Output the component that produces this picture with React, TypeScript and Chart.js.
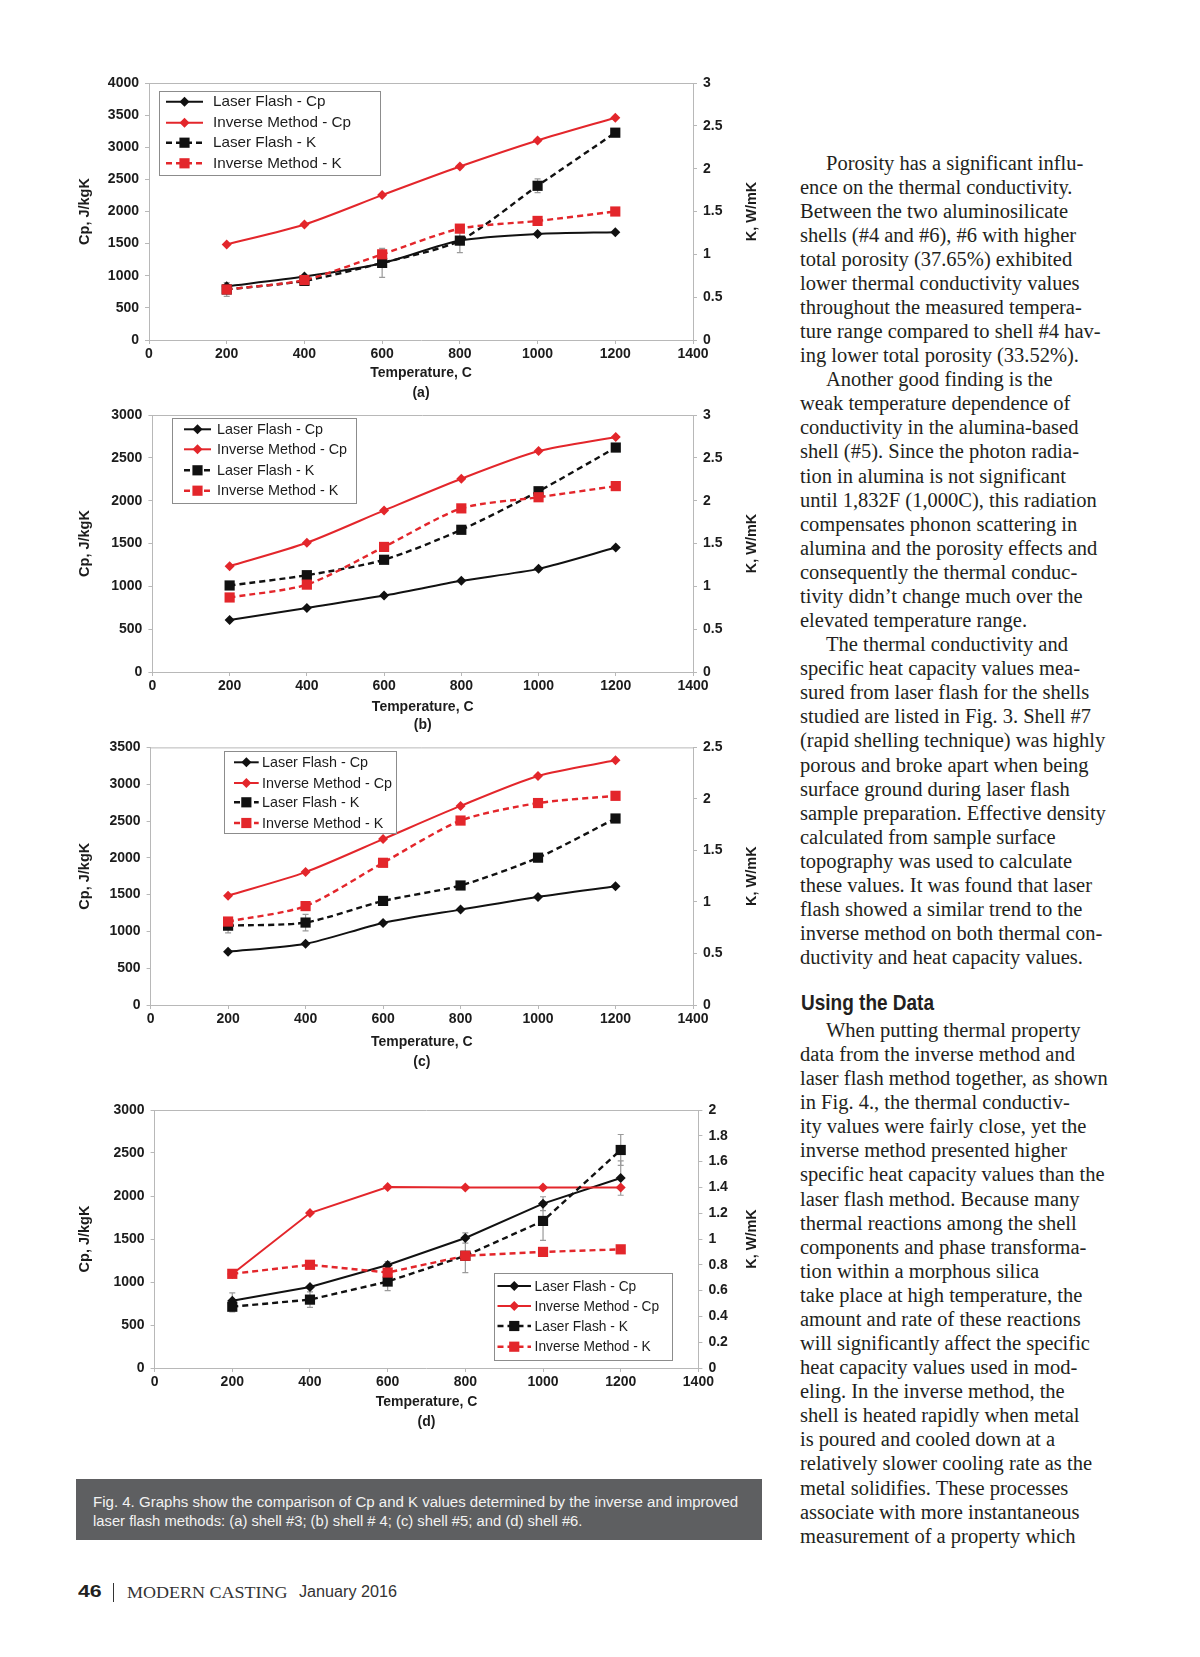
import React, { useEffect, useLayoutEffect, useRef } from 'react';
import { Chart, registerables } from 'chart.js';
Chart.register(...registerables);

// ---------------- DATA ----------------
const temperatures = [200, 400, 600, 800, 1000, 1200];
const seriesNames = ['Laser Flash - Cp', 'Inverse Method - Cp', 'Laser Flash - K', 'Inverse Method - K'];

// (a) shell #3
const aLaserCp = [836, 987, 1195, 1548, 1650, 1678];
const aInverseCp = [1486, 1797, 2255, 2700, 3106, 3460];
const aLaserK = [0.59, 0.69, 0.9, 1.16, 1.8, 2.42];
const aInverseK = [0.59, 0.7, 1.0, 1.3, 1.39, 1.5];
const aLaserCpErr = [0, 0, 0, 0, 0, 0];
const aLaserKErr = [0.08, 0.04, 0.17, 0.14, 0.08, 0.03];
const aInverseKErr = [0, 0, 0.05, 0, 0, 0];

// (b) shell #4
const bLaserCp = [608, 748, 892, 1064, 1204, 1453];
const bInverseCp = [1235, 1508, 1886, 2256, 2579, 2743];
const bLaserK = [1.01, 1.13, 1.31, 1.66, 2.11, 2.62];
const bInverseK = [0.87, 1.02, 1.46, 1.91, 2.04, 2.17];
const bLaserCpErr = [0, 0, 0, 0, 0, 0];
const bLaserKErr = [0, 0, 0, 0, 0, 0];
const bInverseKErr = [0, 0, 0, 0, 0, 0];

// (c) shell #5
const cLaserCp = [723, 831, 1115, 1296, 1468, 1612];
const cInverseCp = [1486, 1806, 2254, 2705, 3112, 3324];
const cLaserK = [0.77, 0.8, 1.01, 1.16, 1.43, 1.81];
const cInverseK = [0.81, 0.96, 1.38, 1.79, 1.96, 2.03];
const cLaserCpErr = [0, 0, 0, 0, 0, 0];
const cLaserKErr = [0.07, 0.08, 0.03, 0.03, 0.04, 0];
const cInverseKErr = [0, 0, 0, 0, 0, 0];

// (d) shell #6
const dLaserCp = [783, 942, 1198, 1512, 1911, 2209];
const dInverseCp = [1093, 1802, 2105, 2100, 2100, 2100];
const dLaserK = [0.475, 0.53, 0.67, 0.87, 1.14, 1.69];
const dInverseK = [0.73, 0.8, 0.74, 0.87, 0.9, 0.92];
const dLaserCpErr = [90, 0, 40, 60, 80, 200];
const dLaserKErr = [0.04, 0.06, 0.07, 0.13, 0.15, 0.12];
const dInverseKErr = [0, 0, 0, 0, 0, 0];

const columnOneLines = [
  'Porosity has a significant influ-',
  'ence on the thermal conductivity.',
  'Between the two aluminosilicate',
  'shells (#4 and #6), #6 with higher',
  'total porosity (37.65%) exhibited',
  'lower thermal conductivity values',
  'throughout the measured tempera-',
  'ture range compared to shell #4 hav-',
  'ing lower total porosity (33.52%).',
  'Another good finding is the',
  'weak temperature dependence of',
  'conductivity in the alumina-based',
  'shell (#5). Since the photon radia-',
  'tion in alumina is not significant',
  'until 1,832F (1,000C), this radiation',
  'compensates phonon scattering in',
  'alumina and the porosity effects and',
  'consequently the thermal conduc-',
  'tivity didn\u2019t change much over the',
  'elevated temperature range.',
  'The thermal conductivity and',
  'specific heat capacity values mea-',
  'sured from laser flash for the shells',
  'studied are listed in Fig. 3. Shell #7',
  '(rapid shelling technique) was highly',
  'porous and broke apart when being',
  'surface ground during laser flash',
  'sample preparation. Effective density',
  'calculated from sample surface',
  'topography was used to calculate',
  'these values. It was found that laser',
  'flash showed a similar trend to the',
  'inverse method on both thermal con-',
  'ductivity and heat capacity values.',
];
const columnOneIndents = [0, 9, 20];
const headingText = 'Using the Data';
const columnTwoLines = [
  'When putting thermal property',
  'data from the inverse method and',
  'laser flash method together, as shown',
  'in Fig. 4., the thermal conductiv-',
  'ity values were fairly close, yet the',
  'inverse method presented higher',
  'specific heat capacity values than the',
  'laser flash method. Because many',
  'thermal reactions among the shell',
  'components and phase transforma-',
  'tion within a morphous silica',
  'take place at high temperature, the',
  'amount and rate of these reactions',
  'will significantly affect the specific',
  'heat capacity values used in mod-',
  'eling. In the inverse method, the',
  'shell is heated rapidly when metal',
  'is poured and cooled down at a',
  'relatively slower cooling rate as the',
  'metal solidifies. These processes',
  'associate with more instantaneous',
  'measurement of a property which',
];
const captionLines = [
  'Fig. 4. Graphs show the comparison of Cp and K values determined by the inverse and improved',
  'laser flash methods: (a) shell #3; (b) shell # 4; (c) shell #5; and (d) shell #6.',
];

// ---------------- STYLE ----------------
const SANS = '"Liberation Sans", Arial, sans-serif';
const SERIF = '"Liberation Serif", "Times New Roman", serif';
const RED = '#e3262b';
const BLACK = '#111111';
const AXIS = '#b8b8b8';
const TEXT = '#1c1c1c';
const CANVAS_LEFT = 60;
const CANVAS_WIDTH = 720;

const panels = [
  {
    letter: '(a)', laserCp: aLaserCp, inverseCp: aInverseCp, laserK: aLaserK, inverseK: aInverseK,
    laserCpErr: aLaserCpErr, laserKErr: aLaserKErr, inverseKErr: aInverseKErr,
    cpMax: 4000, cpStep: 500, kMax: 3, kStep: 0.5, tension: 0.25,
    layout: { canvasTop: 68, plotLeft: 149, plotRight: 693, plotTop: 83, plotBottom: 340, titleY: 373, titleGap: 20,
      box: [159, 91, 380, 175], rows: [101.7, 122.7, 142.7, 163.3], sample: [166, 203], textX: 213, textWidth: 138 },
  },
  {
    letter: '(b)', laserCp: bLaserCp, inverseCp: bInverseCp, laserK: bLaserK, inverseK: bInverseK,
    laserCpErr: bLaserCpErr, laserKErr: bLaserKErr, inverseKErr: bInverseKErr,
    cpMax: 3000, cpStep: 500, kMax: 3, kStep: 0.5, tension: 0.25,
    layout: { canvasTop: 400, plotLeft: 152.4, plotRight: 693, plotTop: 415, plotBottom: 672, titleY: 707, titleGap: 18.5,
      box: [171.6, 418, 355.5, 502.7], rows: [429.3, 449.3, 470.3, 490.7], sample: [184, 211], textX: 217, textWidth: 130 },
  },
  {
    letter: '(c)', laserCp: cLaserCp, inverseCp: cInverseCp, laserK: cLaserK, inverseK: cInverseK,
    laserCpErr: cLaserCpErr, laserKErr: cLaserKErr, inverseKErr: cInverseKErr,
    cpMax: 3500, cpStep: 500, kMax: 2.5, kStep: 0.5, tension: 0.25,
    layout: { canvasTop: 733, plotLeft: 150.6, plotRight: 693, plotTop: 746.7, plotBottom: 1005, titleY: 1042, titleGap: 19.7,
      box: [224, 751, 395.7, 833], rows: [762.3, 783, 802.3, 823], sample: [234, 258.7], textX: 262, textWidth: 130 },
  },
  {
    letter: '(d)', laserCp: dLaserCp, inverseCp: dInverseCp, laserK: dLaserK, inverseK: dInverseK,
    laserCpErr: dLaserCpErr, laserKErr: dLaserKErr, inverseKErr: dInverseKErr,
    cpMax: 3000, cpStep: 500, kMax: 2, kStep: 0.2, tension: 0,
    layout: { canvasTop: 1093, plotLeft: 154.6, plotRight: 698.4, plotTop: 1110, plotBottom: 1368, titleY: 1402, titleGap: 20,
      box: [494, 1273, 671.6, 1360], rows: [1286, 1306, 1326, 1346.7], sample: [497.5, 531], textX: 534.6, textWidth: 124.6 },
  },
];

function canvasHeightOf(L: any) {
  return Math.round(L.titleY + L.titleGap + 22 - L.canvasTop);
}

function markerPath(ctx: CanvasRenderingContext2D, style: string, x: number, y: number, r: number) {
  ctx.beginPath();
  if (style === 'rect') {
    const s = Math.SQRT1_2 * r;
    ctx.rect(x - s, y - s, 2 * s, 2 * s);
  } else {
    ctx.moveTo(x, y - r);
    ctx.lineTo(x + r, y);
    ctx.lineTo(x, y + r);
    ctx.lineTo(x - r, y);
    ctx.closePath();
  }
}

function PanelChart({ panel }: { panel: any }) {
  const ref = useRef<HTMLCanvasElement>(null);
  const L = panel.layout;
  const height = canvasHeightOf(L);

  useEffect(() => {
    if (!ref.current) return;
    const top = L.canvasTop;
    const localBottom = height;
    const plotBottomLocal = L.plotBottom - top;
    const titlePadBottom = localBottom - (L.titleY - top) - L.titleGap / 2 - L.titleGap;

    const mk = (label: string, vals: number[], errs: number[] | null, color: string, dashed: boolean, square: boolean, axis: string, order: number) => ({
      label,
      data: temperatures.map((t, i) => ({ x: t, y: vals[i] })),
      errors: errs,
      borderColor: color,
      backgroundColor: color,
      borderWidth: dashed ? 2.4 : 2,
      borderDash: dashed ? [6, 4] : [],
      pointStyle: square ? 'rect' : 'rectRot',
      pointRadius: square ? 7.2 : 5,
      pointBorderWidth: 0,
      pointBackgroundColor: color,
      yAxisID: axis,
      order,
      tension: panel.tension,
      fill: false,
      clip: false as any,
    });

    const datasets = [
      mk(seriesNames[0], panel.laserCp, panel.laserCpErr, BLACK, false, false, 'y', 3),
      mk(seriesNames[1], panel.inverseCp, null, RED, false, false, 'y', 2),
      mk(seriesNames[2], panel.laserK, panel.laserKErr, BLACK, true, true, 'y2', 1),
      mk(seriesNames[3], panel.inverseK, panel.inverseKErr, RED, true, true, 'y2', 0),
    ];

    const framePlugin = {
      id: 'frame',
      beforeDatasetsDraw(chart: any) {
        const { ctx, chartArea: a } = chart;
        ctx.save();
        ctx.strokeStyle = AXIS;
        ctx.lineWidth = 1;
        ctx.beginPath();
        ctx.moveTo(a.left, a.top + 0.5);
        ctx.lineTo(a.right, a.top + 0.5);
        ctx.stroke();
        ctx.restore();
      },
    };

    const errorPlugin = {
      id: 'errbars',
      beforeDatasetsDraw(chart: any) {
        const { ctx } = chart;
        const xs = chart.scales.x;
        ctx.save();
        ctx.strokeStyle = '#9a9a9a';
        ctx.lineWidth = 1.2;
        chart.data.datasets.forEach((ds: any) => {
          if (!ds.errors) return;
          const ys = chart.scales[ds.yAxisID];
          ds.errors.forEach((e: number, i: number) => {
            if (!e) return;
            const v = ds.data[i].y;
            const px = xs.getPixelForValue(ds.data[i].x);
            const p1 = ys.getPixelForValue(v + e);
            const p2 = ys.getPixelForValue(v - e);
            ctx.beginPath();
            ctx.moveTo(px, p1); ctx.lineTo(px, p2);
            ctx.moveTo(px - 3, p1); ctx.lineTo(px + 3, p1);
            ctx.moveTo(px - 3, p2); ctx.lineTo(px + 3, p2);
            ctx.stroke();
          });
        });
        ctx.restore();
      },
    };

    const legendPlugin = {
      id: 'customLegend',
      afterDraw(chart: any) {
        const { ctx } = chart;
        const ox = CANVAS_LEFT, oy = top;
        const [bx0, by0, bx1, by1] = L.box;
        ctx.save();
        ctx.fillStyle = '#ffffff';
        ctx.fillRect(bx0 - ox, by0 - oy, bx1 - bx0, by1 - by0);
        ctx.strokeStyle = '#8c8c8c';
        ctx.lineWidth = 1;
        ctx.strokeRect(Math.round(bx0 - ox) + 0.5, Math.round(by0 - oy) + 0.5, Math.round(bx1 - bx0), Math.round(by1 - by0));
        ctx.font = `14.5px ${SANS}`;
        const longest = Math.max(...chart.data.datasets.map((d: any) => ctx.measureText(d.label).width));
        const sx = L.textWidth / longest;
        chart.data.datasets.forEach((ds: any, i: number) => {
          const y = L.rows[i] - oy;
          const x0 = L.sample[0] - ox, x1 = L.sample[1] - ox;
          ctx.save();
          ctx.strokeStyle = ds.borderColor;
          ctx.lineWidth = ds.borderWidth;
          ctx.setLineDash(ds.borderDash);
          ctx.beginPath();
          ctx.moveTo(x0, y); ctx.lineTo(x1, y);
          ctx.stroke();
          ctx.setLineDash([]);
          ctx.fillStyle = ds.pointBackgroundColor;
          markerPath(ctx, ds.pointStyle, (x0 + x1) / 2, y, ds.pointRadius);
          ctx.fill();
          ctx.restore();
          ctx.save();
          ctx.fillStyle = TEXT;
          ctx.font = `14.5px ${SANS}`;
          ctx.textBaseline = 'middle';
          ctx.translate(L.textX - ox, y + 0.5);
          ctx.scale(sx, 1);
          ctx.fillText(ds.label, 0, 0);
          ctx.restore();
        });
        ctx.restore();
      },
    };

    const rightTitlePlugin = {
      id: 'rightTitle',
      afterDraw(chart: any) {
        const { ctx, chartArea: a } = chart;
        ctx.save();
        ctx.translate(752 - CANVAS_LEFT, (a.top + a.bottom) / 2);
        ctx.rotate(-Math.PI / 2);
        ctx.font = `bold 14.5px ${SANS}`;
        ctx.fillStyle = TEXT;
        ctx.textAlign = 'center';
        ctx.textBaseline = 'middle';
        ctx.fillText('K, W/mK', 0, 0);
        ctx.restore();
      },
    };

    const tickFont = { family: SANS, size: 14, weight: 'bold' as const };
    const gridOpts = { drawOnChartArea: false, drawTicks: true, tickLength: 4, color: AXIS };

    const chart = new Chart(ref.current, {
      type: 'line',
      data: { datasets: datasets as any },
      options: {
        responsive: false,
        animation: false,
        devicePixelRatio: 1,
        layout: { padding: { top: L.plotTop - top, left: 0, right: 0, bottom: 0 } },
        plugins: { legend: { display: false }, tooltip: { enabled: false } },
        scales: {
          x: {
            type: 'linear', min: 0, max: 1400,
            ticks: { stepSize: 200, font: tickFont, color: TEXT, padding: 2, callback: (v: any) => String(v) },
            grid: gridOpts,
            border: { color: AXIS, width: 1 },
            title: {
              display: true, text: ['Temperature, C', panel.letter], color: TEXT,
              font: { family: SANS, size: 14, weight: 'bold', lineHeight: `${L.titleGap}px` },
              padding: { top: 0, bottom: titlePadBottom },
            },
            afterFit: (s: any) => { s.height = localBottom - plotBottomLocal; },
          },
          y: {
            type: 'linear', position: 'left', min: 0, max: panel.cpMax,
            ticks: { stepSize: panel.cpStep, font: tickFont, color: TEXT, padding: 6, callback: (v: any) => String(v) },
            grid: gridOpts,
            border: { color: AXIS, width: 1 },
            title: { display: true, text: 'Cp, J/kgK', color: TEXT, font: { family: SANS, size: 14.5, weight: 'bold' }, padding: { top: 15.8, bottom: 0 } },
            afterFit: (s: any) => { s.width = L.plotLeft - CANVAS_LEFT; },
          },
          y2: {
            type: 'linear', position: 'right', min: 0, max: panel.kMax,
            ticks: { stepSize: panel.kStep, font: tickFont, color: TEXT, padding: 6, callback: (v: any) => String(Math.round(v * 10) / 10) },
            grid: gridOpts,
            border: { color: AXIS, width: 1 },
            afterFit: (s: any) => { s.width = CANVAS_LEFT + CANVAS_WIDTH - L.plotRight; },
          },
        },
      } as any,
      plugins: [framePlugin, errorPlugin, legendPlugin, rightTitlePlugin],
    });
    return () => chart.destroy();
  }, []);

  return (
    <canvas
      ref={ref}
      width={CANVAS_WIDTH}
      height={height}
      style={{ position: 'absolute', left: CANVAS_LEFT, top: L.canvasTop, width: CANVAS_WIDTH, height }}
    />
  );
}

function FitText({ text, left, top, width, style }: { text: string; left: number; top: number; width: number; style: any }) {
  const ref = useRef<HTMLSpanElement>(null);
  useLayoutEffect(() => {
    const el = ref.current;
    if (!el) return;
    el.style.transform = 'none';
    const w = el.offsetWidth;
    if (w > 0) el.style.transform = `scaleX(${width / w})`;
  }, [text, width]);
  return (
    <span
      ref={ref}
      style={{ position: 'absolute', left, top, whiteSpace: 'nowrap', display: 'inline-block', transformOrigin: '0 0', ...style }}
    >
      {text}
    </span>
  );
}

export default function App() {
  const bodyStyle = { fontFamily: SERIF, fontSize: 20.5, lineHeight: '20.5px', color: '#231f20', whiteSpace: 'nowrap' as const, position: 'absolute' as const };
  const col1Mid = 165, col2Mid = 1032.5, lineStep = 24.08, xMidOffset = 12.5;
  return (
    <div style={{ position: 'absolute', left: 0, top: 0, width: 1200, height: 1657, background: '#ffffff', overflow: 'hidden' }}>
      {panels.map((p) => (
        <PanelChart key={p.letter} panel={p} />
      ))}

      {columnOneLines.map((t, i) => (
        <div key={'c1' + i} style={{ ...bodyStyle, left: columnOneIndents.includes(i) ? 826 : 800, top: col1Mid + i * lineStep - xMidOffset }}>
          {t}
        </div>
      ))}
      <FitText
        text={headingText}
        left={800.5}
        top={992}
        width={133}
        style={{ fontFamily: SANS, fontWeight: 'bold', fontSize: 22, lineHeight: '22px', color: '#231f20' }}
      />
      {columnTwoLines.map((t, i) => (
        <div key={'c2' + i} style={{ ...bodyStyle, left: i === 0 ? 826 : 800, top: col2Mid + i * lineStep - xMidOffset }}>
          {t}
        </div>
      ))}

      <div style={{ position: 'absolute', left: 76, top: 1479, width: 686, height: 61, background: '#5e5f61' }} />
      <FitText text={captionLines[0]} left={93} top={1493.6} width={645} style={{ fontFamily: SANS, fontSize: 15.5, lineHeight: '15.5px', color: '#f2f2f2' }} />
      <FitText text={captionLines[1]} left={93} top={1512.6} width={489} style={{ fontFamily: SANS, fontSize: 15.5, lineHeight: '15.5px', color: '#f2f2f2' }} />

      <FitText text="46" left={78.3} top={1584.2} width={24} style={{ fontFamily: SANS, fontWeight: 'bold', fontSize: 16, lineHeight: '16px', color: '#231f20' }} />
      <div style={{ position: 'absolute', left: 113, top: 1583, width: 1, height: 19, background: '#333' }} />
      <FitText text="MODERN CASTING" left={126.7} top={1583.5} width={161} style={{ fontFamily: SERIF, fontSize: 17, lineHeight: '17px', color: '#333' }} />
      <FitText text="January 2016" left={299} top={1584.2} width={98} style={{ fontFamily: SANS, fontSize: 16, lineHeight: '16px', color: '#333' }} />
    </div>
  );
}
